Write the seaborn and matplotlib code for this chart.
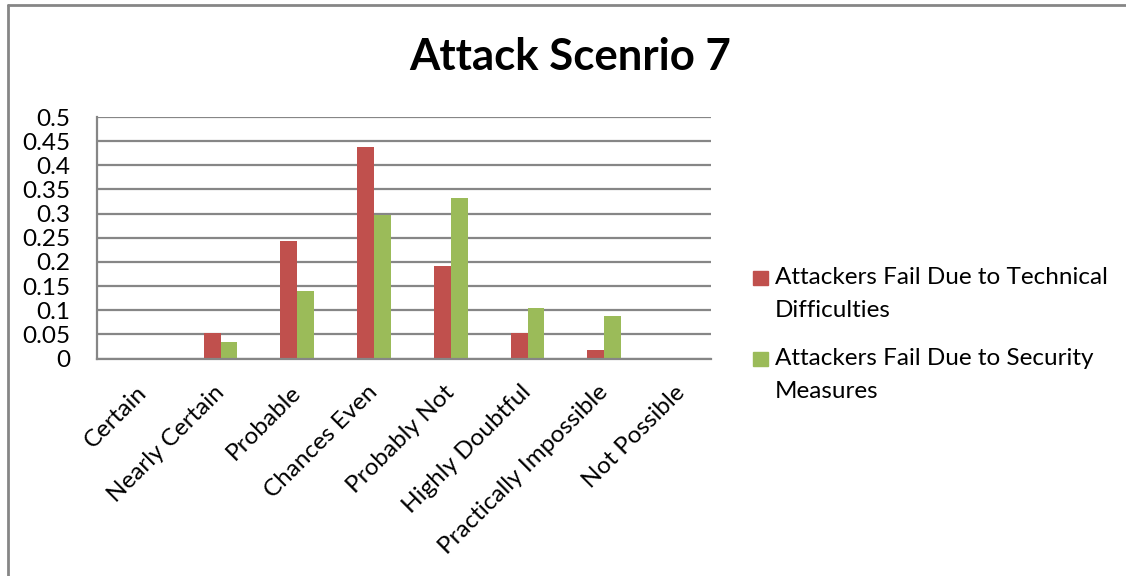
import matplotlib
matplotlib.use("Agg")
import pandas as pd
import seaborn as sns
import matplotlib.pyplot as plt
from matplotlib.lines import Line2D
from matplotlib.patches import Rectangle

# Chart data
title = "Attack Scenrio 7"
categories = ["Certain", "Nearly Certain", "Probable", "Chances Even",
              "Probably Not", "Highly Doubtful", "Practically Impossible", "Not Possible"]
series_names = ["Attackers Fail Due to Technical Difficulties",
                "Attackers Fail Due to Security Measures"]
legend_labels = ["Attackers Fail Due to Technical\nDifficulties",
                 "Attackers Fail Due to Security\nMeasures"]
technical = [0, 0.052, 0.244, 0.437, 0.192, 0.052, 0.017, 0]
security = [0, 0.034, 0.139, 0.297, 0.333, 0.104, 0.087, 0]
yticks = [0, 0.05, 0.1, 0.15, 0.2, 0.25, 0.3, 0.35, 0.4, 0.45, 0.5]
ytick_labels = ["0", "0.05", "0.1", "0.15", "0.2", "0.25", "0.3", "0.35", "0.4", "0.45", "0.5"]

colors = ["#C0504D", "#9BBB59"]
grid_gray = "#868686"

df = pd.DataFrame({"category": categories, series_names[0]: technical, series_names[1]: security})
df = df.melt(id_vars="category", var_name="series", value_name="value")

sns.set_style("white")
plt.rcParams['font.family'] = ['Lato', 'DejaVu Sans']
plt.rcParams['text.color'] = 'black'
plt.rcParams['xtick.color'] = 'black'
plt.rcParams['ytick.color'] = 'black'

FS = 17.5
W, H = 1126, 576
fig = plt.figure(figsize=(W / 100, H / 100), dpi=100)
ax = fig.add_axes([97 / W, 1 - 358.5 / H, 614 / W, 241.5 / H])

sns.barplot(data=df, x="category", y="value", hue="series", order=categories,
            hue_order=series_names, palette=colors, width=0.44, saturation=1,
            linewidth=0, ax=ax, legend=False)

ax.set_xlim(-0.61, 7.39)
ax.set_ylim(0, 0.5)
ax.set_yticks(yticks)
ax.set_yticklabels(ytick_labels, fontsize=FS)
ax.set_xticks(range(len(categories)))
ax.set_xticklabels(categories, rotation=45, ha="right", va="center",
                   rotation_mode="anchor", fontsize=FS)
ax.tick_params(axis="y", length=0, pad=19)
ax.tick_params(axis="x", length=0, pad=22)
ax.set_xlabel("")
ax.set_ylabel("")
ax.yaxis.grid(True, color=grid_gray, lw=1.6)
ax.set_axisbelow(True)
for s in ["top", "right"]:
    ax.spines[s].set_visible(False)
for s in ["left", "bottom"]:
    ax.spines[s].set_color(grid_gray)
    ax.spines[s].set_linewidth(1.6)

fig.text(570 / W, 1 - 57 / H, title, ha="center", va="center",
         fontsize=31.5, fontweight="bold")

# legend drawn by hand so the square sits on the first text line
for i, (lab, col) in enumerate(zip(legend_labels, colors)):
    y0 = 271 + i * 81
    fig.patches.append(Rectangle((753 / W, 1 - (y0 + 14) / H), 15 / W, 14 / H,
                                 transform=fig.transFigure, color=col))
    fig.text(775 / W, 1 - (y0 - 4) / H, lab, ha="left", va="top",
             fontsize=FS, linespacing=1.68)

# chart border
fig.add_artist(Line2D([8 / W, 1], [1 - 5 / H, 1 - 5 / H], transform=fig.transFigure,
                      color=grid_gray, lw=2))
fig.add_artist(Line2D([8 / W, 8 / W], [0, 1 - 5 / H], transform=fig.transFigure,
                      color=grid_gray, lw=2))

fig.savefig("out.png", dpi=100)
